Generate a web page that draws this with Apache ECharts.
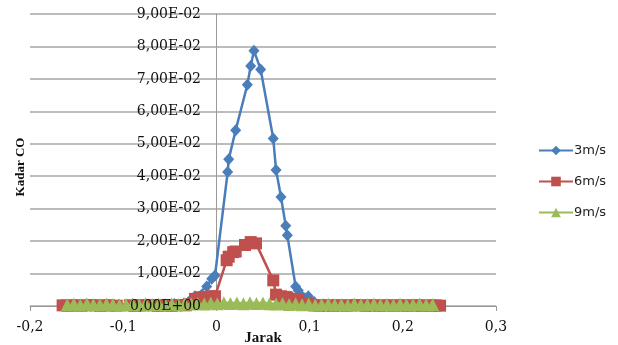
<head>
    <meta charset="UTF-8">
    <title>Kadar CO</title>
    <script type="text/javascript" src="https://cdn.jsdelivr.net/npm/echarts@6/dist/echarts.min.js"></script>
    <style>body{margin:0;background:#fff;}</style>
</head>
<body>
    <div id="main" style="width: 618px;height:345px;"></div>
    <script type="text/javascript">
// data
var namaSeri = ['3m/s', '6m/s', '9m/s'];

var jarak3 = [-0.165, -0.155, -0.145, -0.135, -0.125, -0.115, -0.105, -0.095, -0.085, -0.075, -0.065, -0.055, -0.045, -0.035,
  -0.03, -0.023, -0.0104, -0.005, -0.0015, 0.0121, 0.0132, 0.0207, 0.0332, 0.0368, 0.0403, 0.0475,
  0.061, 0.064, 0.0693, 0.0744, 0.0761, 0.085, 0.0879, 0.0986,
  0.105, 0.115, 0.125, 0.135, 0.145, 0.155, 0.165, 0.175, 0.185, 0.195, 0.205, 0.215, 0.225, 0.235];
var kadar3 = [0.0003, 0.0003, 0.0002, 0.0003, 0.0003, 0.0002, 0.0003, 0.0003, 0.0004, 0.0003, 0.0004, 0.0005, 0.0006, 0.0008,
  0.0012, 0.003, 0.006, 0.0084, 0.0094, 0.0413, 0.0452, 0.0542, 0.0682, 0.074, 0.0787, 0.0729,
  0.0516, 0.0419, 0.0336, 0.0247, 0.0218, 0.006, 0.0048, 0.003,
  0.0012, 0.0005, 0.0004, 0.0003, 0.0003, 0.0002, 0.0003, 0.0002, 0.0003, 0.0002, 0.0003, 0.0002, 0.0002, 0.0002];

var jarak6 = [-0.165, -0.16, -0.155, -0.15, -0.145, -0.14, -0.135, -0.13, -0.125, -0.12, -0.115, -0.107,
  -0.093, -0.088, -0.083, -0.078, -0.073, -0.068, -0.063, -0.058, -0.053, -0.048, -0.043, -0.038, -0.033,
  -0.027, -0.023, -0.017, -0.0104, -0.005, -0.0015,
  0.011, 0.0132, 0.018, 0.0207, 0.0307, 0.0368, 0.0425,
  0.061, 0.064, 0.0693, 0.0744, 0.0761, 0.085, 0.0879, 0.0986,
  0.105, 0.11, 0.115, 0.12, 0.125, 0.13, 0.135, 0.14, 0.145, 0.15, 0.155, 0.16, 0.165, 0.17,
  0.175, 0.18, 0.185, 0.19, 0.195, 0.2, 0.205, 0.21, 0.215, 0.22, 0.225, 0.23, 0.235, 0.24];
var kadar6 = [0.0002, 0.0001, 0.0002, 0.0002, 0.0001, 0.0002, 0.0003, 0.0002, 0.0001, 0.0002, 0.0002, 0.0001,
  0.0002, 0.0001, 0.0002, 0.0002, 0.0003, 0.0002, 0.0001, 0.0002, 0.0002, 0.0001, 0.0002, 0.0003, 0.0002,
  0.0006, 0.0022, 0.0027, 0.0028, 0.003, 0.003,
  0.0141, 0.0152, 0.0166, 0.0168, 0.0188, 0.0197, 0.0193,
  0.0079, 0.0035, 0.003, 0.0028, 0.0026, 0.0022, 0.002, 0.0008,
  0.0002, 0.0001, 0.0002, 0.0002, 0.0001, 0.0002, 0.0002, 0.0001, 0.0002, 0.0003, 0.0002, 0.0001, 0.0002, 0.0002,
  0.0001, 0.0002, 0.0002, 0.0001, 0.0002, 0.0002, 0.0001, 0.0002, 0.0002, 0.0001, 0.0002, 0.0001, 0.0002, 0.0001];

var jarak9 = [-0.16, -0.153, -0.146, -0.139, -0.132, -0.125, -0.118, -0.111, -0.104, -0.097, -0.09, -0.083, -0.076, -0.069,
  -0.062, -0.055, -0.048, -0.041, -0.034, -0.027, -0.02, -0.013, -0.006, 0.001, 0.008, 0.015, 0.022, 0.029,
  0.036, 0.043, 0.05, 0.057, 0.064, 0.071, 0.078, 0.085, 0.092, 0.099, 0.106, 0.113, 0.12, 0.127,
  0.134, 0.141, 0.148, 0.155, 0.162, 0.169, 0.176, 0.183, 0.19, 0.197, 0.204, 0.211, 0.218, 0.225, 0.232];
var kadar9 = [0.0004, 0.0006, 0.0003, 0.0007, 0.0005, 0.0004, 0.0006, 0.0005, 0.0003, 0.0005, 0.0006, 0.0004, 0.0007, 0.0005,
  0.0006, 0.0004, 0.0006, 0.0005, 0.0007, 0.0006, 0.0008, 0.0006, 0.0009, 0.0007, 0.001, 0.0008, 0.0009, 0.0007,
  0.001, 0.0008, 0.0009, 0.0007, 0.0006, 0.0008, 0.0005, 0.0007, 0.0004, 0.0006, 0.0003, 0.0005, 0.0006, 0.0004,
  0.0005, 0.0003, 0.0006, 0.0004, 0.0005, 0.0006, 0.0004, 0.0005, 0.0003, 0.0006, 0.0004, 0.0005, 0.0006, 0.0004, 0.0005];

function pasang(xs, ys) {
  var out = [];
  for (var i = 0; i < xs.length; i++) out.push([xs[i], ys[i]]);
  return out;
}

// 9,00E-02 style labels
function labelY(v) {
  if (Math.abs(v) < 1e-12) return '0,00E+00';
  var s = v.toExponential(2).split('e');
  var e = parseInt(s[1], 10);
  var ex = (e < 0 ? '-' : '+') + (Math.abs(e) < 10 ? '0' : '') + Math.abs(e);
  return s[0].replace('.', ',') + 'E' + ex;
}

var myChart = echarts.init(document.getElementById('main'));

var labelStyleY = {
  margin: 15,
  showMinLabel: true,
  showMaxLabel: true,
  fontFamily: 'DejaVu Serif',
  fontSize: 14,
  color: '#111',
  formatter: labelY,
};

var option = {
  backgroundColor: '#fff',
  animation: false,
  grid: {
    left: 30,
    right: 122,
    top: 14,
    bottom: 39,
    containLabel: false,
    outerBoundsMode: 'none',
  },
  legend: {
    data: namaSeri,
    orient: 'vertical',
    left: 533,
    top: 139,
    itemWidth: 34,
    itemHeight: 12,
    itemGap: 18,
    textStyle: {
      fontFamily: 'DejaVu Sans',
      fontSize: 13,
      color: '#222',
      padding: [0, 0, 0, -4],
    },
  },
  graphic: [
    {
      type: 'text',
      x: 21,
      y: 167,
      rotation: Math.PI / 2,
      style: {
        text: 'Kadar CO',
        fontFamily: 'Liberation Serif',
        fontWeight: 'bold',
        fontSize: 13,
        fill: '#111',
        align: 'center',
        verticalAlign: 'middle',
      },
    },
  ],
  xAxis: {
    type: 'value',
    min: -0.2,
    max: 0.3,
    interval: 0.1,
    name: 'Jarak',
    nameLocation: 'middle',
    nameGap: 32,
    nameMoveOverlap: false,
    nameTextStyle: {
      fontFamily: 'Liberation Serif',
      fontWeight: 'bold',
      fontSize: 15,
      color: '#111',
      verticalAlign: 'middle',
    },
    axisLine: { onZero: false, lineStyle: { color: '#9a9a9a', width: 1 } },
    axisTick: { show: true, length: 5, lineStyle: { color: '#9a9a9a' } },
    splitLine: { show: false },
    axisLabel: {
      margin: 14,
      fontFamily: 'DejaVu Serif',
      fontSize: 14,
      color: '#111',
      formatter: function (v) {
        return String(Math.round(v * 10) / 10).replace('.', ',');
      },
    },
  },
  yAxis: [
    {
      // gridlines + vertical axis line, under the series
      type: 'value',
      min: 0,
      max: 0.09,
      interval: 0.01,
      position: 'left',
      offset: -186,
      axisLine: { show: true, onZero: false, lineStyle: { color: '#9a9a9a', width: 1 } },
      axisTick: { show: false },
      splitLine: { show: true, lineStyle: { color: '#a6a6a6', width: 1.5 } },
      axisLabel: { show: false },
    },
    {
      // labels only, drawn over the markers like in the picture
      type: 'value',
      min: 0,
      max: 0.09,
      interval: 0.01,
      position: 'left',
      offset: -186,
      z: 10,
      axisLine: { show: false, onZero: false },
      axisTick: { show: false },
      splitLine: { show: false },
      axisLabel: labelStyleY,
    },
  ],
  series: [
    {
      name: '3m/s',
      type: 'line',
      symbol: 'diamond',
      symbolSize: [11, 12],
      itemStyle: { color: '#4a7ebb' },
      lineStyle: { color: '#4a7ebb', width: 2.5 },
      data: pasang(jarak3, kadar3),
    },
    {
      name: '6m/s',
      type: 'line',
      symbol: 'rect',
      symbolSize: 12,
      itemStyle: { color: '#c0504d' },
      lineStyle: { color: '#c0504d', width: 2.5 },
      data: pasang(jarak6, kadar6),
    },
    {
      name: '9m/s',
      type: 'line',
      symbol: 'triangle',
      symbolSize: 13,
      itemStyle: { color: '#9bbb59' },
      lineStyle: { color: '#9bbb59', width: 3 },
      data: pasang(jarak9, kadar9),
    },
  ],
};

myChart.setOption(option);
    </script>
</body>
